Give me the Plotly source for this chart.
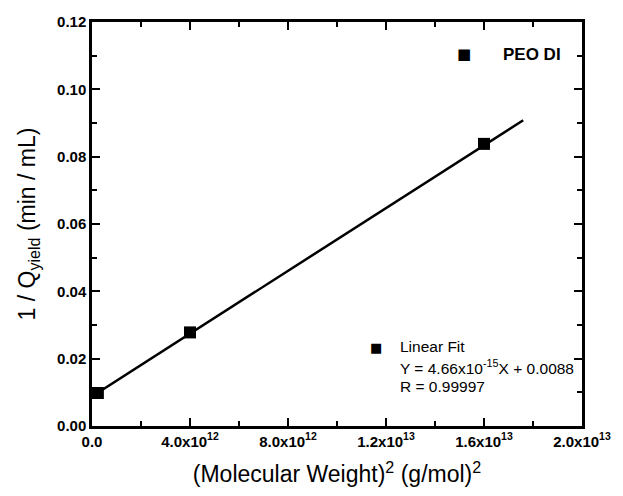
import plotly.graph_objects as go

# Data
mw2 = [2.4e11, 4.0e12, 1.6e13]
inv_q = [0.0098, 0.0278, 0.0838]
fit_slope = 4.66e-15
fit_intercept = 0.0088
fit_x = [0.0, 1.76e13]
fit_y = [fit_slope * x + fit_intercept for x in fit_x]

x_tickvals = [0, 4e12, 8e12, 1.2e13, 1.6e13, 2.0e13]
x_ticktext = ["0.0", "4.0x10<sup>12</sup>", "8.0x10<sup>12</sup>", "1.2x10<sup>13</sup>",
              "1.6x10<sup>13</sup>", "2.0x10<sup>13</sup>"]
y_tickvals = [0, 0.02, 0.04, 0.06, 0.08, 0.10, 0.12]
y_ticktext = ["0.00", "0.02", "0.04", "0.06", "0.08", "0.10", "0.12"]

fig = go.Figure()
fig.add_trace(go.Scatter(x=fit_x, y=fit_y, mode="lines",
                         line=dict(color="black", width=2.5), showlegend=False))
fig.add_trace(go.Scatter(x=mw2, y=inv_q, mode="markers",
                         marker=dict(symbol="square", size=12, color="black"),
                         showlegend=False))

axis_common = dict(showline=True, linecolor="black", linewidth=2.5, mirror="ticks",
                   ticks="inside", ticklen=8, tickwidth=2, tickcolor="black",
                   showgrid=False, zeroline=False,
                   tickfont=dict(family="Liberation Sans", size=15, color="black", weight="bold"))

fig.update_xaxes(range=[0, 2.0e13], tickvals=x_tickvals, ticktext=x_ticktext,
                 minor=dict(ticks="inside", ticklen=5, tickwidth=2, tickcolor="black", dtick=2e12),
                 title=dict(text="(Molecular Weight)<sup>2</sup> (g/mol)<sup>2</sup>",
                            font=dict(family="Liberation Sans", size=23, color="black"), standoff=18),
                 **axis_common)
fig.update_yaxes(range=[0, 0.12], tickvals=y_tickvals, ticktext=y_ticktext,
                 minor=dict(ticks="inside", ticklen=5, tickwidth=2, tickcolor="black", dtick=0.01),
                 title=dict(text="1 / Q<sub>yield</sub> (min / mL)",
                            font=dict(family="Liberation Sans", size=23, color="black"), standoff=15),
                 **axis_common)

ann_font = dict(family="Liberation Sans", size=15.5, color="black")
fig.add_annotation(xref="paper", yref="paper", x=0.778, y=0.948, text="■", showarrow=False,
                   font=dict(family="DejaVu Sans", size=15, color="black"))
fig.add_annotation(xref="paper", yref="paper", x=0.835, y=0.948, xanchor="left", text="<b>PEO DI</b>",
                   showarrow=False, font=dict(family="Liberation Sans", size=17, color="black"))
fig.add_annotation(xref="paper", yref="paper", x=0.579, y=0.171, text="■", showarrow=False,
                   font=dict(family="DejaVu Sans", size=13, color="black"))
fig.add_annotation(xref="paper", yref="paper", x=0.625, y=0.171, xanchor="left", text="Linear Fit",
                   showarrow=False, font=ann_font)
fig.add_annotation(xref="paper", yref="paper", x=0.625, y=0.116, xanchor="left",
                   text="Y = 4.66x10<sup>-15</sup>X + 0.0088", showarrow=False, font=ann_font)
fig.add_annotation(xref="paper", yref="paper", x=0.625, y=0.072, xanchor="left",
                   text="R = 0.99997", showarrow=False, font=ann_font)

fig.update_layout(width=623, height=496, margin=dict(l=92, r=30, t=22, b=70),
                  paper_bgcolor="white", plot_bgcolor="white")
fig.write_html("out.html")
